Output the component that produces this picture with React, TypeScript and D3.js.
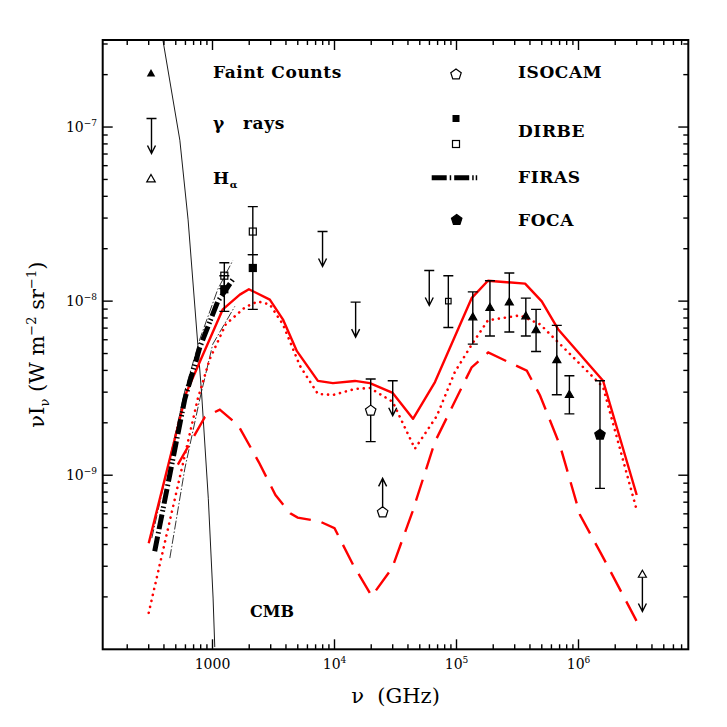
import React from 'react';
import * as d3 from 'd3';

// model curves, nu in GHz, nuI_nu in W m^-2 sr^-1
const solidNu = [300, 612, 1215, 1675, 1988, 2950, 3775, 4920, 7310, 9700, 14700, 19500, 30000, 44000, 66600, 133000, 181000, 365000, 500000, 680000, 1590000, 3000000];
const solidI = [4.07e-10, 3.0e-9, 8.97e-9, 1.09e-8, 1.17e-8, 1.02e-8, 7.86e-9, 5.16e-9, 3.48e-9, 3.38e-9, 3.48e-9, 3.38e-9, 2.97e-9, 2.11e-9, 3.43e-9, 1.04e-8, 1.31e-8, 1.26e-8, 9.96e-9, 6.9e-9, 3.49e-9, 7.7e-10];

const dotNu = [300, 757, 950, 1285, 1840, 2353, 2950, 3775, 5200, 7310, 9700, 14700, 19500, 30000, 45600, 69000, 97000, 134000, 181000, 332000, 484000, 706000, 1590000, 3020000];
const dotI = [1.62e-10, 2.74e-9, 4.65e-9, 7.36e-9, 9.2e-9, 9.96e-9, 9.57e-9, 7.36e-9, 4.26e-9, 2.93e-9, 2.89e-9, 3.13e-9, 3.17e-9, 2.64e-9, 1.42e-9, 2.19e-9, 3.92e-9, 5.66e-9, 7.76e-9, 8.28e-9, 7.36e-9, 5.66e-9, 3.21e-9, 6.2e-10];

const dashNu = [520, 867, 1148, 1629, 2394, 3283, 4340, 4990, 7590, 10000, 14200, 20200, 29700, 43600, 66400, 133000, 182000, 377000, 484000, 706000, 1030000, 1550000, 3000000];
const dashI = [1.15e-9, 2.16e-9, 2.38e-9, 1.93e-9, 1.19e-9, 7.7e-10, 6.04e-10, 5.71e-10, 5.42e-10, 4.96e-10, 3.06e-10, 2.02e-10, 2.93e-10, 6.18e-10, 1.55e-9, 4.16e-9, 5.07e-9, 3.98e-9, 2.87e-9, 1.48e-9, 5.9e-10, 3.49e-10, 1.45e-10];

const cmbNu = [393, 540, 631, 813, 924, 1011, 1044];
const cmbI = [3.13e-7, 8.4e-8, 2.93e-8, 3.0e-9, 7.36e-10, 1.97e-10, 1.03e-10];

const firasNu = [336, 447, 593, 787, 1105, 1466];
const firasI = [3.66e-10, 1.01e-9, 2.74e-9, 5.43e-9, 9.96e-9, 1.33e-8];
const firasHiNu = [318, 447, 593, 787, 1105, 1466];
const firasHiI = [4.35e-10, 1.25e-9, 3.05e-9, 6.04e-9, 1.17e-8, 1.71e-8];
const firasLoNu = [447, 593, 787, 1005, 1524];
const firasLoI = [3.34e-10, 1.09e-9, 2.74e-9, 5.66e-9, 9.33e-9];

// data points
const faintNu = [1.36e5, 1.88e5, 2.71e5, 3.70e5, 4.49e5, 6.64e5, 8.42e5];
const faintI = [8.1e-9, 9.17e-9, 9.87e-9, 8.21e-9, 6.83e-9, 4.6e-9, 2.9e-9];
const faintHi = [1.13e-8, 1.31e-8, 1.45e-8, 1.04e-8, 8.97e-9, 7.26e-9, 3.73e-9];
const faintLo = [5.66e-9, 6.31e-9, 6.65e-9, 6.31e-9, 5.14e-9, 2.9e-9, 2.25e-9];

const gammaNu = [7.98e3, 1.49e4, 3.0e4, 5.98e4];
const gammaI = [2.51e-8, 9.87e-9, 3.49e-9, 1.5e-8];

const isoNu = [1.98e4];
const isoI = [2.35e-9];
const isoHi = [3.57e-9];
const isoLo = [1.56e-9];
const isoLimNu = [2.48e4];
const isoLimI = [6.12e-10];

const dirbeFillNu = [1250, 2140];
const dirbeFillI = [1.17e-8, 1.55e-8];
const dirbeFillHi = [1.4e-8, 1.85e-8];
const dirbeFillLo = [8.73e-9, 8.97e-9];
const dirbeOpenNu = [1250, 2140, 8.57e4];
const dirbeOpenI = [1.4e-8, 2.51e-8, 1.0e-8];
const dirbeOpenHi = [1.66e-8, 3.49e-8, 1.4e-8];
const dirbeOpenLo = [1.18e-8, 1.85e-8, 7.05e-9];

const focaNu = [1.5e6];
const focaI = [1.71e-9];
const focaHi = [3.49e-9];
const focaLo = [8.4e-10];

const halphaNu = [3.34e6];
const halphaI = [2.69e-10];

const xMajor = [1e3, 1e4, 1e5, 1e6];
const xMajorLabels = ['1000', '4', '5', '6'];
const yMajor = [1e-7, 1e-8, 1e-9];
const yMajorLabels = ['\u22127', '\u22128', '\u22129'];

const L = 102.7, R = 688.3, T = 40, B = 649.3;
const serif = '"DejaVu Serif", serif';

function pent(cx: number, cy: number, r: number) {
  const p = d3.range(5).map((k) => {
    const a = -Math.PI / 2 + (k * 2 * Math.PI) / 5;
    return [cx + r * Math.cos(a), cy + r * Math.sin(a)];
  });
  return 'M' + p.map((q) => q.join(',')).join('L') + 'Z';
}
function tri(cx: number, cy: number, s: number) {
  const h = s * 0.87;
  return `M${cx},${cy - h * 0.6}L${cx + s / 2},${cy + h * 0.4}L${cx - s / 2},${cy + h * 0.4}Z`;
}
function downArrow(cx: number, y0: number, len: number, cap = true) {
  const t = y0 + len;
  return (cap ? `M${cx - 5},${y0}L${cx + 5},${y0}` : '') + `M${cx},${y0}L${cx},${t}M${cx - 4},${t - 8}L${cx},${t}L${cx + 4},${t - 8}`;
}
function errBar(cx: number, yh: number, yl: number) {
  return `M${cx},${yh}L${cx},${yl}M${cx - 5},${yh}L${cx + 5},${yh}M${cx - 5},${yl}L${cx + 5},${yl}`;
}

export default function App() {
  const x = d3.scaleLog().domain([Math.pow(10, 2.1), Math.pow(10, 6.9)]).range([L, R]);
  const y = d3.scaleLog().domain([1e-10, Math.pow(10, -6.5)]).range([B, T]);
  const path = (nu: number[], v: number[]) =>
    d3.line<number>().x((d, i) => x(nu[i])).y((d, i) => y(v[i]))(nu) || '';

  const isMajor = (v: number) => Math.abs(Math.log10(v) - Math.round(Math.log10(v))) < 1e-6;
  const xt = x.ticks().filter((v) => v >= x.domain()[0] && v <= x.domain()[1]);
  const yt = y.ticks().filter((v) => v > 1.01e-10 && v <= y.domain()[1]);
  const firasDash = '15 3 1.5 3 15 3 1.5 2 1.5 3';

  return (
    <svg width={727} height={727} style={{ position: 'absolute', left: 0, top: 0, background: '#fff' }}>
      <defs>
        <clipPath id="plot">
          <rect x={L} y={T} width={R - L} height={B - T} />
        </clipPath>
      </defs>
      <rect width={727} height={727} fill="#fff" />

      <g clipPath="url(#plot)" fill="none">
        <path d={path(cmbNu, cmbI)} stroke="#000" strokeWidth={0.9} />
        <path d={path(firasHiNu, firasHiI)} stroke="#000" strokeWidth={0.8} strokeDasharray="9 2 1.5 2" />
        <path d={path(firasLoNu, firasLoI)} stroke="#000" strokeWidth={0.8} strokeDasharray="9 2 1.5 2" />
        <path d={path(solidNu, solidI)} stroke="#ff0000" strokeWidth={2.4} strokeLinejoin="round" />
        <path d={path(dotNu, dotI)} stroke="#ff0000" strokeWidth={2.6} strokeDasharray="0.1 6" strokeLinecap="round" />
        <path d={path(dashNu, dashI)} stroke="#ff0000" strokeWidth={2.4} strokeDasharray="22 11" />
        <path d={path(firasNu, firasI)} stroke="#000" strokeWidth={5} strokeDasharray={firasDash} />
      </g>

      <g stroke="#000" strokeWidth={1.4} fill="none">
        {faintNu.map((v, i) => (
          <path key={'fe' + i} d={errBar(x(v), y(faintHi[i]), y(faintLo[i]))} />
        ))}
        {dirbeFillNu.map((v, i) => (
          <path key={'dfe' + i} d={errBar(x(v), y(dirbeFillHi[i]), y(dirbeFillLo[i]))} />
        ))}
        {dirbeOpenNu.map((v, i) => (
          <path key={'doe' + i} d={errBar(x(v), y(dirbeOpenHi[i]), y(dirbeOpenLo[i]))} />
        ))}
        {isoNu.map((v, i) => (
          <path key={'ie' + i} d={errBar(x(v), y(isoHi[i]), y(isoLo[i]))} />
        ))}
        {focaNu.map((v, i) => (
          <path key={'foe' + i} d={errBar(x(v), y(focaHi[i]), y(focaLo[i]))} />
        ))}
        {gammaNu.map((v, i) => (
          <path key={'g' + i} d={downArrow(x(v), y(gammaI[i]), 35)} />
        ))}
        {isoLimNu.map((v, i) => (
          <path key={'il' + i} d={`M${x(v)},${y(isoLimI[i]) - 5}L${x(v)},${y(isoLimI[i]) - 34}M${x(v) - 4},${y(isoLimI[i]) - 26}L${x(v)},${y(isoLimI[i]) - 34}L${x(v) + 4},${y(isoLimI[i]) - 26}`} />
        ))}
        {halphaNu.map((v, i) => (
          <path key={'ha' + i} d={downArrow(x(v), y(halphaI[i]), 37, false)} />
        ))}
      </g>

      <g stroke="#000" strokeWidth={1.2}>
        {faintNu.map((v, i) => (
          <path key={'f' + i} d={tri(x(v), y(faintI[i]), 8)} fill="#000" />
        ))}
        {dirbeFillNu.map((v, i) => (
          <rect key={'df' + i} x={x(v) - 3.5} y={y(dirbeFillI[i]) - 3.5} width={7} height={7} fill="#000" />
        ))}
        {dirbeOpenNu.map((v, i) => {
          const s = i === 2 ? 5.5 : 7;
          return <rect key={'do' + i} x={x(v) - s / 2} y={y(dirbeOpenI[i]) - s / 2} width={s} height={s} fill="none" />;
        })}
        {isoNu.map((v, i) => (
          <path key={'i' + i} d={pent(x(v), y(isoI[i]), 5.5)} fill="#fff" />
        ))}
        {isoLimNu.map((v, i) => (
          <path key={'il2' + i} d={pent(x(v), y(isoLimI[i]), 5.5)} fill="#fff" />
        ))}
        {focaNu.map((v, i) => (
          <path key={'fo' + i} d={pent(x(v), y(focaI[i]), 5.5)} fill="#000" />
        ))}
        {halphaNu.map((v, i) => (
          <path key={'h' + i} d={tri(x(v), y(halphaI[i]), 8)} fill="#fff" />
        ))}
      </g>

      {/* frame and ticks */}
      <rect x={L} y={T} width={R - L} height={B - T} fill="none" stroke="#000" strokeWidth={2} />
      <g stroke="#000" strokeWidth={1.4}>
        {xt.map((v, i) => {
          const len = isMajor(v) ? 10 : 5;
          return (
            <g key={'xt' + i}>
              <line x1={x(v)} x2={x(v)} y1={B} y2={B - len} />
              <line x1={x(v)} x2={x(v)} y1={T} y2={T + len} />
            </g>
          );
        })}
        {yt.map((v, i) => {
          const len = isMajor(v) ? 10 : 5;
          return (
            <g key={'yt' + i}>
              <line x1={L} x2={L + len} y1={y(v)} y2={y(v)} />
              <line x1={R} x2={R - len} y1={y(v)} y2={y(v)} />
            </g>
          );
        })}
      </g>

      <g fontFamily={serif} fontSize={14} fill="#000">
        {xMajor.map((v, i) => (
          <text key={'xl' + i} x={x(v)} y={669} textAnchor="middle">
            {i === 0 ? xMajorLabels[0] : '10'}
            {i > 0 && (
              <tspan fontSize={9} dy={-6}>
                {xMajorLabels[i]}
              </tspan>
            )}
          </text>
        ))}
        {yMajor.map((v, i) => (
          <text key={'yl' + i} x={97} y={y(v) + 5} textAnchor="end">
            10
            <tspan fontSize={9} dy={-6}>
              {yMajorLabels[i]}
            </tspan>
          </text>
        ))}
      </g>

      {/* axis titles */}
      <text x={(L + R) / 2} y={703} textAnchor="middle" fontFamily={serif} fontSize={21}>
        {'\u03bd\u00a0\u00a0(GHz)'}
      </text>
      <text transform={`translate(44,${(T + B) / 2}) rotate(-90)`} textAnchor="middle" fontFamily={serif} fontSize={21}>
        {'\u03bdI'}
        <tspan fontSize={13} dy={5}>{'\u03bd'}</tspan>
        <tspan dy={-5}>{'\u00a0(W m'}</tspan>
        <tspan fontSize={13} dy={-8}>{'\u22122'}</tspan>
        <tspan dy={8}>{' sr'}</tspan>
        <tspan fontSize={13} dy={-8}>{'\u22121'}</tspan>
        <tspan dy={8}>{')'}</tspan>
      </text>

      <text x={250} y={617} fontFamily={serif} fontSize={16} fontWeight="bold">CMB</text>

      {/* legend */}
      <g fontFamily={serif} fontSize={17} fontWeight="bold" letterSpacing={0.6} fill="#000">
        <path d={tri(151, 73.5, 8.5)} fill="#000" />
        <text x={213} y={78}>Faint Counts</text>
        <path d={downArrow(151.5, 118.5, 35)} stroke="#000" strokeWidth={1.4} fill="none" />
        <text x={213} y={129}>{'\u03b3'}</text>
        <text x={243} y={129}>rays</text>
        <path d={tri(151, 179, 8.5)} fill="#fff" stroke="#000" strokeWidth={1.2} />
        <text x={213} y={184}>
          H<tspan fontSize={10} dy={4}>{'\u03b1'}</tspan>
        </text>

        <path d={pent(456, 74.5, 5.5)} fill="#fff" stroke="#000" strokeWidth={1.2} />
        <text x={518} y={78}>ISOCAM</text>
        <rect x={452.5} y={115} width={7} height={7} fill="#000" />
        <rect x={452.5} y={140.5} width={7} height={7} fill="none" stroke="#000" strokeWidth={1.2} />
        <text x={518} y={137}>DIRBE</text>
        <line x1={431.7} x2={480} y1={177.7} y2={177.7} stroke="#000" strokeWidth={5} strokeDasharray={firasDash} />
        <text x={518} y={183}>FIRAS</text>
        <path d={pent(456.7, 220, 5.5)} fill="#000" stroke="#000" strokeWidth={1.2} />
        <text x={518} y={226}>FOCA</text>
      </g>
    </svg>
  );
}
